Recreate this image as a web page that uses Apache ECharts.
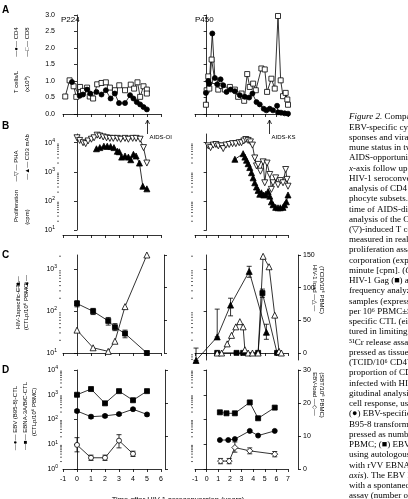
<!DOCTYPE html>
<html>
<head>
<meta charset="utf-8">
<script src="https://cdn.jsdelivr.net/npm/echarts@6.0.0/dist/echarts.min.js"></script>
<style>
html, body { margin: 0; padding: 0; background: #fff; }
#chart { width: 408px; height: 499px; }
</style>
</head>
<body>
<div id="chart"></div>
<script>
// ---- data, x = years after HIV-1 seroconversion ----
// A: T cells/L (x10^9)
var p224Cd8Yr = [-0.84, -0.53, -0.24, -0.05, 0.22, 0.43, 0.72, 0.91, 1.15, 1.44, 1.75, 2.06, 2.35, 2.71, 3.02, 3.43, 3.84, 4.08, 4.32, 4.51, 4.75, 4.99, 4.99];
var p224Cd8 = [0.53, 1.02, 0.84, 0.52, 0.82, 0.70, 0.80, 0.53, 0.47, 0.90, 0.94, 0.96, 0.80, 0.72, 0.87, 0.72, 0.89, 0.77, 0.96, 0.52, 0.84, 0.74, 0.62];
var p224Cd4Yr = [-0.36, 0.19, 0.43, 0.72, 0.95, 1.39, 1.75, 2.06, 2.4, 2.7, 3.0, 3.43, 3.79, 4.03, 4.27, 4.51, 4.75, 4.99];
var p224Cd4 = [0.97, 0.55, 0.59, 0.74, 0.62, 0.67, 0.59, 0.72, 0.47, 0.62, 0.33, 0.33, 0.57, 0.47, 0.36, 0.29, 0.21, 0.14];
var p450Cd8Yr = [-0.06, 0.0, 0.14, 0.23, 0.43, 0.71, 1.0, 1.29, 1.57, 2.0, 2.43, 2.71, 3.0, 3.23, 3.49, 3.71, 4.0, 4.23, 4.71, 5.0, 5.2, 5.57, 5.86, 6.14, 6.37, 6.57, 6.8, 6.94, 7.0];
var p450Cd8 = [0.28, 0.72, 1.14, 0.77, 1.65, 1.0, 0.74, 0.85, 0.74, 0.82, 0.74, 0.52, 0.62, 0.40, 1.21, 0.82, 0.92, 0.72, 1.38, 1.35, 0.67, 1.07, 0.77, 2.97, 1.02, 0.54, 0.64, 0.44, 0.28];
var p450Cd4Yr = [-0.06, 0.14, 0.23, 0.49, 0.71, 0.91, 1.2, 1.43, 1.71, 2.06, 2.43, 2.86, 3.29, 3.66, 3.94, 4.29, 4.57, 4.91, 5.14, 5.43, 5.71, 6.06, 6.14, 6.4, 6.71, 7.0];
var p450Cd4 = [0.64, 1.0, 0.92, 2.44, 1.09, 0.9, 1.05, 0.87, 0.67, 0.74, 0.69, 0.57, 0.52, 0.5, 0.62, 0.36, 0.29, 0.16, 0.11, 0.16, 0.11, 0.25, 0.05, 0.04, 0.02, 0.01];

// B: proliferation (cpm)
var p224PhaYr = [0.0, 0.19, 0.43, 0.62, 0.79, 1.03, 1.22, 1.44, 1.63, 1.87, 2.11, 2.35, 2.59, 2.88, 3.12, 3.43, 3.67, 3.98, 4.22, 4.51, 4.75, 4.99];
var p224Pha = [14800, 12000, 10000, 9300, 11500, 13200, 14800, 18200, 17000, 15800, 14800, 14100, 14100, 14100, 13200, 14100, 13200, 14100, 14100, 13200, 6800, 2000];
var p224Cd3Yr = [1.39, 1.63, 1.92, 2.16, 2.4, 2.64, 2.88, 3.02, 3.19, 3.43, 3.67, 3.84, 4.03, 4.22, 4.46, 4.7, 4.99];
var p224Cd3 = [6200, 6800, 7600, 7600, 7400, 6800, 5100, 4900, 3200, 3500, 3200, 2600, 4000, 3500, 2000, 320, 260];
var p450PhaYr = [0.14, 0.34, 0.57, 0.8, 1.0, 1.29, 1.43, 1.66, 1.94, 2.23, 2.51, 2.8, 3.0, 3.2, 3.37, 3.57, 3.77, 3.94, 4.14, 4.29, 4.43, 4.63, 4.86, 5.0, 5.2, 5.43, 5.57, 5.71, 5.94, 6.14, 6.34, 6.57, 6.8, 6.91, 7.0];
var p450Pha = [7800, 6800, 8300, 8700, 7800, 7800, 6300, 8300, 8700, 9300, 9300, 10000, 10000, 11500, 12900, 12000, 10700, 8300, 3000, 1600, 1800, 1050, 2200, 420, 2000, 810, 250, 420, 620, 360, 500, 420, 1200, 550, 320];
var p450Cd3Yr = [2.43, 3.14, 3.29, 3.43, 3.57, 3.71, 3.86, 4.0, 4.14, 4.29, 4.43, 4.57, 4.71, 4.91, 5.09, 5.29, 5.43, 5.57, 5.71, 5.94, 6.14, 6.34, 6.57, 6.71, 6.86, 7.0];
var p450Cd3 = [2700, 4200, 3200, 2500, 1900, 1400, 930, 620, 420, 300, 230, 170, 190, 160, 170, 210, 145, 93, 74, 60, 58, 58, 60, 74, 93, 160];

// C: HIV-1-specific CTL (CTLp/10^6 PBMC) and HIV-1 load (TCID/10^6 PBMC)
var p224GagYr = [0, 1.15, 2.23, 2.71, 3.43, 4.99];
var p224Gag = [150, 98, 58, 41, 29, 10];
var p224GagLo = [125, 82, 46, 34, 23, 9];
var p224GagHi = [175, 115, 70, 50, 35, 11];
var p224HivLoad = [35, 8, 2.5, 18, 71, 150];
var p450CtlYr = [-0.91, 0.91, 2.06, 3.66, 5.14];
var p450Ctl = [6.6, 24, 137, 870, 31];
var p450CtlLo = [6.6, 24, 76, 630, 21];
var p450CtlHi = [13, 110, 200, 1150, 48];
var p450GagYr = [0.91, 2.57, 3.14, 4.43, 4.8, 6.06];
var p450Gag = [10, 10, 10, 10, 265, 10];
var p450GagLo = [10, 10, 10, 10, 210, 10];
var p450GagHi = [10, 10, 10, 10, 330, 10];
var p450HivLoadYr = [0.91, 1.29, 1.77, 2.14, 2.51, 2.86, 3.14, 3.29, 3.57, 3.94, 4.43, 4.86, 5.37, 5.86, 6.23, 6.43];
var p450HivLoad = [0, 0, 14, 27, 40, 48, 40, 5, 0, 0, 0, 148, 132, 58, 2.5, 0];

// D: EBV-specific CTL (CTLp/10^6 PBMC) and EBV load (SBT/10^6 PBMC)
var p224EbvYr = [0, 1, 2, 3, 4, 5];
var p224Ebv = [1000, 1700, 450, 1400, 600, 1400];
var p224Ebna = [220, 130, 140, 165, 260, 160];
var p224EbnaLo = [190, 110, 120, 145, 230, 140];
var p224EbnaHi = [250, 150, 160, 185, 290, 180];
var p224EbvLoadYr = [0, 1, 2, 3, 4];
var p224EbvLoad = [7.3, 3.4, 3.4, 8.6, 4.6];
var p224EbvLoadLo = [5.2, 2.6, 2.6, 6.4, 3.8];
var p224EbvLoadHi = [9.5, 4.2, 4.2, 10.4, 5.4];
var p450EbvYr = [1.14, 1.71, 2.43, 3.71, 4.43, 5.86];
var p450Ebv = [195, 178, 178, 490, 112, 302];
var p450EbnaYr = [1.14, 1.86, 2.43, 3.71, 4.43, 5.86];
var p450Ebna = [14.8, 14.8, 16.2, 34.7, 22.4, 34.7];
var p450EbvLoadYr = [1.2, 1.94, 2.43, 3.71, 5.86];
var p450EbvLoad = [2.4, 2.4, 6.5, 5.5, 4.5];
var p450EbvLoadLo = [1.6, 1.6, 5.1, 4.6, 3.7];
var p450EbvLoadHi = [3.2, 3.2, 8.2, 6.4, 5.3];

var aidsYr = [5.0, 5.35];   // AIDS-OI (P224), AIDS-KS (P450)

var caption = [
  '{i|Figure 2.} Comparison of',
  'EBV-specific cytotoxic',
  'sponses and viral load',
  'mune status in two',
  'AIDS-opportunistic',
  '{i|x}-axis follow up is',
  'HIV-1 seroconversion',
  'analysis of CD4 (\u25CF)',
  'phocyte subsets. The',
  'time of AIDS-diagnosis',
  'analysis of the CD3',
  '(\u25BD)-induced T cell',
  'measured in real time',
  'proliferation assay',
  'corporation (expressed',
  'minute [cpm]. ({i|C})',
  'HIV-1 Gag (\u25A0) and',
  'frequency analyzed',
  'samples (expressed',
  'per 10\u2076 PBMC\u00B1SD',
  'specific CTL (either',
  'tured in limiting dilution',
  '\u2075\u00B9Cr release assay.',
  'pressed as tissue culture',
  '(TCID/10\u2076 CD4\u207A T',
  'proportion of CD4',
  'infected with HIV',
  'gitudinal analysis',
  'cell response, using',
  '(\u25CF) EBV-specific',
  'B95-8 transformed',
  'pressed as number',
  'PBMC; (\u25A0) EBV-',
  'using autologous B',
  'with rVV EBNA 3A',
  '{i|axis}). The EBV load',
  'with a spontaneous',
  'assay (number of'
];

// ---- helpers ----
var LG = Math.log10;
var INK = '#000';
var FONT = 'Liberation Sans';

function pts(xs, ys, log) {
  return xs.map(function (x, i) { return [x, log ? LG(ys[i]) : ys[i]]; });
}

function line(xi, yi, data, symbol, filled, size, rot) {
  return {
    type: 'line', xAxisIndex: xi, yAxisIndex: yi, data: data,
    symbol: symbol, symbolSize: size || 5, symbolRotate: rot || 0,
    showAllSymbol: true, clip: false, z: 3,
    lineStyle: { color: INK, width: 0.8 },
    itemStyle: { color: filled ? INK : '#fff', borderColor: INK, borderWidth: 0.8 }
  };
}

function errBars(xi, yi, xs, lo, hi, log) {
  var f = function (v) { return log ? LG(v) : v; };
  return {
    type: 'custom', xAxisIndex: xi, yAxisIndex: yi, silent: true, z: 2,
    data: xs.map(function (x, i) { return [x, f(lo[i]), f(hi[i])]; }),
    renderItem: function (p, api) {
      var a = api.coord([api.value(0), api.value(1)]);
      var b = api.coord([api.value(0), api.value(2)]);
      var st = { stroke: INK, lineWidth: 0.8 };
      return { type: 'group', children: [
        { type: 'line', shape: { x1: a[0], y1: a[1], x2: b[0], y2: b[1] }, style: st },
        { type: 'line', shape: { x1: a[0] - 2.5, y1: a[1], x2: a[0] + 2.5, y2: a[1] }, style: st },
        { type: 'line', shape: { x1: b[0] - 2.5, y1: b[1], x2: b[0] + 2.5, y2: b[1] }, style: st }
      ] };
    }
  };
}

// minor ticks of a log10 axis (values already in log space)
function logMinor(xi, yi, lo, hi, off) {
  var d = [];
  for (var n = Math.floor(lo); n < hi; n++) {
    for (var k = 2; k < 10; k++) {
      var v = n + LG(k);
      if (v >= lo && v <= hi) d.push([-1, v]);
    }
  }
  return {
    type: 'custom', xAxisIndex: xi, yAxisIndex: yi, silent: true, data: d,
    renderItem: function (p, api) {
      var c = api.coord([api.value(0), api.value(1)]);
      return { type: 'line', shape: { x1: c[0] - off, y1: c[1], x2: c[0] - off - 2, y2: c[1] },
        style: { stroke: INK, lineWidth: 0.6 } };
    }
  };
}

function xAx(g, max, off, labels) {
  return {
    type: 'value', gridIndex: g, min: -1, max: max, interval: 1, offset: off,
    axisLine: { lineStyle: { color: INK, width: 0.8 } },
    axisTick: { length: 3, lineStyle: { color: INK, width: 0.8 } },
    axisLabel: { show: labels, color: INK, fontSize: 7, fontFamily: FONT, margin: 3 },
    splitLine: { show: false }
  };
}

function yAx(g, o) {
  var ax = {
    type: 'value', gridIndex: g, min: o.min, max: o.max, offset: o.off || 0,
    position: o.pos || 'left',
    axisLine: { show: true, lineStyle: { color: INK, width: 0.8 } },
    axisTick: { show: true, length: 3, lineStyle: { color: INK, width: 0.8 } },
    axisLabel: { show: !!o.labels, color: INK, fontSize: 7, fontFamily: FONT, margin: o.margin || 4 },
    splitLine: { show: false }
  };
  if (o.interval) ax.interval = o.interval;
  if (o.ticks) {
    ax.axisTick.customValues = o.ticks;
    ax.axisLabel.customValues = o.ticks;
  }
  if (o.log) {
    ax.axisLabel.formatter = function (v) { return '10{s|' + Math.round(v) + '}'; };
    ax.axisLabel.rich = { s: { fontSize: 5, fontFamily: FONT, color: INK, verticalAlign: 'top', padding: [0, 0, 4, 0] } };
  }
  if (o.fmt) ax.axisLabel.formatter = o.fmt;
  return ax;
}

// rotated text (rot = 90 reads bottom-to-top, -90 top-to-bottom)
function vtext(x, y, text, rot, size, bold) {
  return {
    type: 'text', x: x, y: y, rotation: rot * Math.PI / 180, silent: true,
    style: { text: text, fill: INK, font: (bold ? 'bold ' : '') + (size || 7) + 'px ' + FONT,
      align: 'center', verticalAlign: 'middle' }
  };
}

// ---- layout ----
var L0 = 63, LW = 98, R0 = 195, RW = 93;
var grids = [
  { left: L0, top: 15, width: LW, height: 99 },
  { left: R0, top: 15, width: RW, height: 99 },
  { left: L0, top: 134, width: LW, height: 96 },
  { left: R0, top: 134, width: RW, height: 96 },
  { left: L0, top: 255, width: LW, height: 98 },
  { left: R0, top: 255, width: RW, height: 105 },
  { left: L0, top: 370, width: LW, height: 99 },
  { left: R0, top: 370, width: RW, height: 99 }
];

var xAxes = [
  xAx(0, 6, 3, false), xAx(1, 7, 3, false),
  xAx(2, 6, 5, false), xAx(3, 7, 5, false),
  xAx(4, 6, 4, false), xAx(5, 7, 4, false),
  xAx(6, 6, 4, true), xAx(7, 7, 4, true)
];

var yAxes = [
  yAx(0, { min: 0, max: 3, interval: 0.5, off: 4, labels: true, fmt: function (v) { return v.toFixed(1); } }),
  yAx(1, { min: 0, max: 3, interval: 0.5, off: 2 }),
  yAx(2, { min: 1, max: 4.3, ticks: [1, 2, 3, 4], off: 4, labels: true, log: true }),
  yAx(3, { min: 1, max: 4.3, ticks: [1, 2, 3, 4], off: 2 }),
  yAx(4, { min: 1, max: 3.33, ticks: [1, 2, 3], off: 2, labels: true, log: true }),
  yAx(5, { min: 0.83, max: 3.33, ticks: [1, 2, 3], off: 2 }),
  yAx(6, { min: 0, max: 4, interval: 1, off: 1, labels: true, log: true }),
  yAx(7, { min: 0, max: 4, interval: 1, off: 2 }),
  // right axes: HIV-1 load and EBV load
  yAx(4, { min: 0, max: 150, interval: 50, off: 3, pos: 'right' }),
  yAx(5, { min: -10.7, max: 150, ticks: [0, 50, 100, 150], off: 10, pos: 'right', labels: true, margin: 5 }),
  yAx(6, { min: 0, max: 30, interval: 10, off: 4, pos: 'right' }),
  yAx(7, { min: 0, max: 30, interval: 10, off: 10, pos: 'right', labels: true, margin: 5 })
];

var series = [
  // A
  line(0, 0, pts(p224Cd8Yr, p224Cd8), 'rect', false, 5),
  line(0, 0, pts(p224Cd4Yr, p224Cd4), 'circle', true, 5),
  line(1, 1, pts(p450Cd8Yr, p450Cd8), 'rect', false, 5),
  line(1, 1, pts(p450Cd4Yr, p450Cd4), 'circle', true, 5),
  // B
  line(2, 2, pts(p224PhaYr, p224Pha, true), 'triangle', false, 6, 180),
  line(2, 2, pts(p224Cd3Yr, p224Cd3, true), 'triangle', true, 6),
  line(3, 3, pts(p450PhaYr, p450Pha, true), 'triangle', false, 6, 180),
  line(3, 3, pts(p450Cd3Yr, p450Cd3, true), 'triangle', true, 6),
  logMinor(2, 2, 1, 4.3, 4), logMinor(3, 3, 1, 4.3, 2),
  // C
  errBars(4, 4, p224GagYr, p224GagLo, p224GagHi, true),
  line(4, 4, pts(p224GagYr, p224Gag, true), 'rect', true, 5),
  line(4, 8, pts(p224GagYr, p224HivLoad), 'triangle', false, 6),
  errBars(5, 5, p450CtlYr, p450CtlLo, p450CtlHi, true),
  line(5, 5, pts(p450CtlYr, p450Ctl, true), 'triangle', true, 6),
  errBars(5, 5, p450GagYr, p450GagLo, p450GagHi, true),
  line(5, 5, pts(p450GagYr, p450Gag, true), 'rect', true, 5),
  line(5, 9, pts(p450HivLoadYr, p450HivLoad), 'triangle', false, 6),
  logMinor(4, 4, 1, 3.33, 2), logMinor(5, 5, 0.83, 3.33, 2),
  // D
  line(6, 6, pts(p224EbvYr, p224Ebv, true), 'rect', true, 5),
  errBars(6, 6, p224EbvYr, p224EbnaLo, p224EbnaHi, true),
  line(6, 6, pts(p224EbvYr, p224Ebna, true), 'circle', true, 5),
  errBars(6, 10, p224EbvLoadYr, p224EbvLoadLo, p224EbvLoadHi),
  line(6, 10, pts(p224EbvLoadYr, p224EbvLoad), 'circle', false, 5),
  line(7, 7, pts(p450EbvYr, p450Ebv, true), 'rect', true, 5),
  line(7, 7, pts(p450EbnaYr, p450Ebna, true), 'circle', true, 5),
  errBars(7, 11, p450EbvLoadYr, p450EbvLoadLo, p450EbvLoadHi),
  line(7, 11, pts(p450EbvLoadYr, p450EbvLoad), 'diamond', false, 6),
  logMinor(6, 6, 0, 4, 1), logMinor(7, 7, 0, 4, 2)
];

var graphic = [
  // panel letters
  { type: 'text', x: 2, y: 5, style: { text: 'A', font: 'bold 10px ' + FONT, fill: INK } },
  { type: 'text', x: 2, y: 121, style: { text: 'B', font: 'bold 10px ' + FONT, fill: INK } },
  { type: 'text', x: 2, y: 250, style: { text: 'C', font: 'bold 10px ' + FONT, fill: INK } },
  { type: 'text', x: 2, y: 365, style: { text: 'D', font: 'bold 10px ' + FONT, fill: INK } },
  { type: 'text', x: 61, y: 16, style: { text: 'P224', font: '8px ' + FONT, fill: INK } },
  { type: 'text', x: 195, y: 16, style: { text: 'P450', font: '8px ' + FONT, fill: INK } },
  // A titles
  vtext(16, 42, '\u2014\u25CF\u2014 CD4', 90, 6),
  vtext(27, 42, '\u2014\u25A1\u2014 CD8', 90, 6),
  vtext(16, 82, 'T cells/L', 90, 6),
  vtext(27, 84, '(x10\u2079)', 90, 6),
  // B titles
  vtext(16, 166, '\u2014\u25BD\u2014 PHA', 90, 6),
  vtext(27, 157, '\u2014\u25B2\u2014 CD3 mAb', 90, 6),
  vtext(16, 206, 'Proliferation', 90, 6),
  vtext(27, 217, '(cpm)', 90, 6),
  // C titles
  vtext(18, 284, '\u2014\u25A0\u2014', 90, 6),
  vtext(26, 284, '\u2014\u25B2\u2014', 90, 6),
  vtext(18, 305, 'HIV-1specific-CTL', 90, 6),
  vtext(26, 306, '(CTLp/10\u2076 PBMC)', 90, 6),
  vtext(315, 288, 'HIV-1 load \u2014\u25B3\u2014', -90, 6),
  vtext(322, 290, '(TCID/10\u2076 PBMC)', -90, 6),
  // D titles
  vtext(15, 418, '\u2014\u25CF\u2014 EBV (B95-8)-CTL', 90, 6),
  vtext(25, 416, '\u2014\u25A0\u2014 EBNA-3A/B/C-CTL', 90, 6),
  vtext(34, 412, '(CTLp/10\u2076 PBMC)', 90, 6),
  vtext(315, 394, 'EBV-load \u2014\u25C7\u2014', -90, 6),
  vtext(322, 395, '(SBT/10\u2076 PBMC)', -90, 6),
  // x-axis title (cut by the bottom edge)
  { type: 'text', x: 178, y: 496, style: { text: 'Time after HIV-1 seroconversion (years)', font: '7.5px ' + FONT, fill: INK, align: 'center' } }
];

caption.forEach(function (t, i) {
  graphic.push({
    type: 'text', x: 349, y: 117 + i * 10.24, silent: true,
    style: { text: t, fill: INK, font: '9px Liberation Serif', verticalAlign: 'middle',
      rich: { i: { fontStyle: 'italic', fontFamily: 'Liberation Serif', fontSize: 9 } } }
  });
});

var chart = echarts.init(document.getElementById('chart'), null, { renderer: 'canvas' });
chart.setOption({
  animation: false,
  backgroundColor: '#fff',
  grid: grids,
  xAxis: xAxes,
  yAxis: yAxes,
  series: series,
  graphic: graphic
});

// AIDS diagnosis arrows under panel A
var arrows = [];
[[0, 'AIDS-OI'], [1, 'AIDS-KS']].forEach(function (a, i) {
  var p = chart.convertToPixel({ gridIndex: a[0] }, [aidsYr[i], 0]);
  var x = Math.round(p[0]) + 0.5;
  arrows.push({ type: 'line', silent: true, shape: { x1: x, y1: 120, x2: x, y2: 134 }, style: { stroke: INK, lineWidth: 0.8 } });
  arrows.push({ type: 'polyline', silent: true, shape: { points: [[x - 2, 124], [x, 120], [x + 2, 124]] }, style: { stroke: INK, lineWidth: 0.8, fill: null } });
  arrows.push({ type: 'text', silent: true, x: x + 2, y: 137, style: { text: a[1], font: '6px ' + FONT, fill: INK, verticalAlign: 'middle' } });
});
chart.setOption({ graphic: graphic.concat(arrows) });
</script>
</body>
</html>
